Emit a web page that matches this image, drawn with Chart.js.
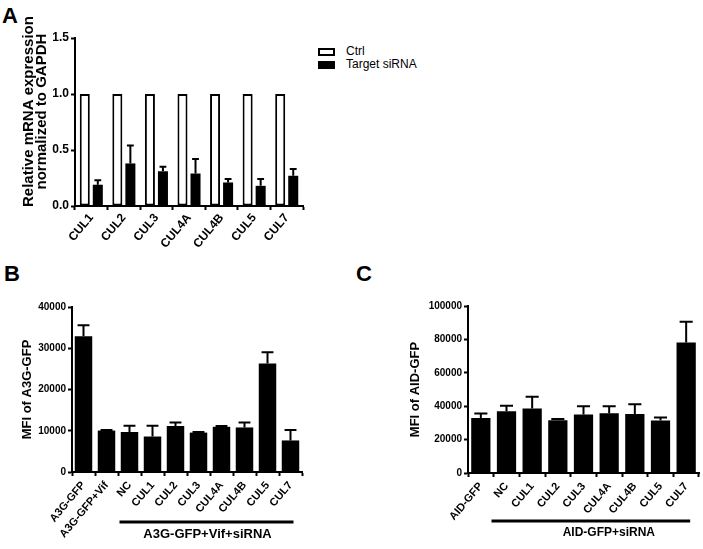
<!DOCTYPE html>
<html>
<head>
<meta charset="utf-8">
<script src="https://cdn.jsdelivr.net/npm/chart.js@4.4.1/dist/chart.umd.min.js"></script>
<style>
  body { margin: 0; background: #fff; width: 703px; height: 549px; position: relative; overflow: hidden;
         font-family: "Liberation Sans", Arial, sans-serif; }
  canvas { position: absolute; }
  .letter { position: absolute; font-weight: bold; font-size: 22px; line-height: 22px; }
  #legend { position: absolute; left: 318px; top: 45px; font-size: 12px; line-height: 13px; }
  #legend div { height: 13px; white-space: nowrap; }
  #legend span { display: inline-block; box-sizing: border-box; width: 17px; height: 8px; margin-right: 11px; vertical-align: -1px; }
</style>
</head>
<body>
<div class="letter" style="left:2px;top:5px">A</div>
<div class="letter" style="left:4px;top:263px">B</div>
<div class="letter" style="left:356px;top:263px">C</div>
<div id="legend">
  <div><span style="border:2px solid #000;background:#fff"></span>Ctrl</div>
  <div><span style="background:#000"></span>Target siRNA</div>
</div>
<canvas id="chartA" width="310" height="262" style="left:0;top:0"></canvas>
<canvas id="chartB" width="310" height="284" style="left:0;top:265px"></canvas>
<canvas id="chartC" width="351" height="284" style="left:352px;top:265px"></canvas>
<script>
// panel A - knockdown efficiency
const aCats = ['CUL1', 'CUL2', 'CUL3', 'CUL4A', 'CUL4B', 'CUL5', 'CUL7'];
const aCtrl = [1, 1, 1, 1, 1, 1, 1];
const aTarget = [0.19, 0.38, 0.31, 0.29, 0.21, 0.18, 0.27];
const aTargetErr = [0.04, 0.16, 0.04, 0.13, 0.03, 0.06, 0.06];
const aYTicks = [0, 0.5, 1.0, 1.5];

// panel B - A3G-GFP
const bCats = ['A3G-GFP', 'A3G-GFP+Vif', 'NC', 'CUL1', 'CUL2', 'CUL3', 'CUL4A', 'CUL4B', 'CUL5', 'CUL7'];
const bMfi = [32900, 10050, 9700, 8600, 11150, 9550, 10950, 10800, 26300, 7650];
const bErr = [2650, 150, 1500, 2600, 850, 150, 200, 1200, 2750, 2550];
const bYTicks = [0, 10000, 20000, 30000, 40000];
const bGroup = 'A3G-GFP+Vif+siRNA';

// panel C - AID-GFP
const cCats = ['AID-GFP', 'NC', 'CUL1', 'CUL2', 'CUL3', 'CUL4A', 'CUL4B', 'CUL5', 'CUL7'];
const cMfi = [33000, 37000, 38600, 31600, 35000, 35800, 35400, 31400, 78200];
const cErr = [2600, 3200, 7000, 800, 5000, 4200, 5800, 1800, 12400];
const cYTicks = [0, 20000, 40000, 60000, 80000, 100000];
const cGroup = 'AID-GFP+siRNA';

const FONT = '"Liberation Sans", Arial, sans-serif';

// upward-only error bars (Prism style)
const errorBars = {
    id: 'errorBars',
    afterDatasetsDraw(chart) {
        const ctx = chart.ctx;
        const y = chart.scales.y;
        chart.data.datasets.forEach((ds, di) => {
            if (!ds.errors) return;
            chart.getDatasetMeta(di).data.forEach((bar, i) => {
                const top = y.getPixelForValue(ds.data[i] + ds.errors[i]);
                const half = bar.width * 0.34;
                ctx.save();
                ctx.strokeStyle = '#000';
                ctx.lineWidth = 2;
                ctx.beginPath();
                ctx.moveTo(bar.x, bar.y);
                ctx.lineTo(bar.x, top);
                ctx.moveTo(bar.x - half, top);
                ctx.lineTo(bar.x + half, top);
                ctx.stroke();
                ctx.restore();
            });
        });
    }
};

// bracket line under the siRNA group
const groupLine = {
    id: 'groupLine',
    afterDraw(chart, args, opts) {
        if (!opts.text) return;
        const ctx = chart.ctx;
        const x = chart.scales.x;
        const labels = chart.data.labels;
        const x0 = x.getPixelForValue(labels.indexOf(opts.from)) - opts.padL;
        const x1 = x.getPixelForValue(labels.indexOf(opts.to)) + opts.padR;
        ctx.save();
        ctx.strokeStyle = '#000';
        ctx.lineWidth = 3;
        ctx.beginPath();
        ctx.moveTo(x0, opts.y);
        ctx.lineTo(x1, opts.y);
        ctx.stroke();
        ctx.fillStyle = '#000';
        ctx.font = 'bold ' + opts.size + 'px ' + FONT;
        ctx.textAlign = 'center';
        ctx.textBaseline = 'middle';
        ctx.fillText(opts.text, (x0 + x1) / 2 + opts.textDx, opts.y + opts.textDy);
        ctx.restore();
    }
};

function yScale(tickVals, fmt, tickSize, title, titleSize, titleLH, titlePad, width) {
    return {
        min: tickVals[0],
        max: tickVals[tickVals.length - 1],
        afterBuildTicks: s => { s.ticks = tickVals.map(v => ({ value: v })); },
        afterFit: s => { s.width = width; },
        ticks: { color: '#000', font: { family: FONT, size: tickSize, weight: 700 }, padding: 2, callback: fmt },
        grid: { display: true, drawOnChartArea: false, drawTicks: true, tickLength: 4, tickWidth: 2, tickColor: '#000', color: '#000' },
        border: { display: true, color: '#000', width: 2 },
        title: { display: true, text: title, color: '#000', padding: { top: titlePad, bottom: 0 },
                 font: { family: FONT, size: titleSize, weight: 700, lineHeight: titleLH } }
    };
}

function xScale(tickSize, rot, pad, height) {
    return {
        afterFit: s => { s.height = height; },
        ticks: { color: '#000', font: { family: FONT, size: tickSize, weight: 700 }, minRotation: rot, maxRotation: rot, autoSkip: false, padding: pad },
        grid: { display: true, drawOnChartArea: false, drawTicks: true, tickLength: 4, tickWidth: 2, tickColor: '#000', offset: true },
        border: { display: true, color: '#000', width: 2 }
    };
}

const common = {
    responsive: false,
    animation: false,
    devicePixelRatio: 1,
    events: []
};

// leading spaces nudge the centred axis title a little upwards, as in the figure
const aTitle = ['     Relative mRNA expression', '     normalized to GAPDH'];

new Chart(document.getElementById('chartA'), {
    type: 'bar',
    data: {
        labels: aCats,
        datasets: [
            { label: 'Ctrl', data: aCtrl, backgroundColor: '#fff', borderColor: '#000', borderWidth: 2, borderSkipped: false,
              barPercentage: 0.77, categoryPercentage: 0.8 },
            { label: 'Target siRNA', data: aTarget, errors: aTargetErr, backgroundColor: '#000', borderWidth: 0,
              barPercentage: 0.77, categoryPercentage: 0.8 }
        ]
    },
    options: Object.assign({}, common, {
        layout: { padding: { top: 38, left: 0, right: 7, bottom: 0 } },
        plugins: { legend: { display: false }, tooltip: { enabled: false } },
        scales: {
            x: xScale(12, 50, 1, 56),
            y: yScale(aYTicks, v => v.toFixed(1), 12, aTitle, 15, 0.88, 22, 75)
        }
    }),
    plugins: [errorBars]
});

new Chart(document.getElementById('chartB'), {
    type: 'bar',
    data: {
        labels: bCats,
        datasets: [{ data: bMfi, errors: bErr, backgroundColor: '#000', borderWidth: 0, barPercentage: 0.76, categoryPercentage: 1 }]
    },
    options: Object.assign({}, common, {
        layout: { padding: { top: 42, left: 0, right: 8, bottom: 0 } },
        plugins: {
            legend: { display: false }, tooltip: { enabled: false },
            groupLine: { from: 'NC', to: 'CUL7', padL: 10, padR: 3, y: 257, text: bGroup, size: 13, textDx: 1, textDy: 12 }
        },
        scales: {
            x: xScale(11, 50, 3, 77),
            y: yScale(bYTicks, v => String(v), 10, 'MFI of A3G-GFP', 13, 1.2, 20, 72)
        }
    }),
    plugins: [errorBars, groupLine]
});

new Chart(document.getElementById('chartC'), {
    type: 'bar',
    data: {
        labels: cCats,
        datasets: [{ data: cMfi, errors: cErr, backgroundColor: '#000', borderWidth: 0, barPercentage: 0.75, categoryPercentage: 1 }]
    },
    options: Object.assign({}, common, {
        layout: { padding: { top: 41, left: 56, right: 4, bottom: 0 } },
        plugins: {
            legend: { display: false }, tooltip: { enabled: false },
            groupLine: { from: 'NC', to: 'CUL7', padL: 15, padR: 4, y: 256, text: cGroup, size: 12, textDx: 18, textDy: 12 }
        },
        scales: {
            x: xScale(11, 50, 3, 76),
            y: yScale(cYTicks, v => String(v), 10, 'MFI of AID-GFP', 13, 1.2, 0, 60)
        }
    }),
    plugins: [errorBars, groupLine]
});
</script>
</body>
</html>
